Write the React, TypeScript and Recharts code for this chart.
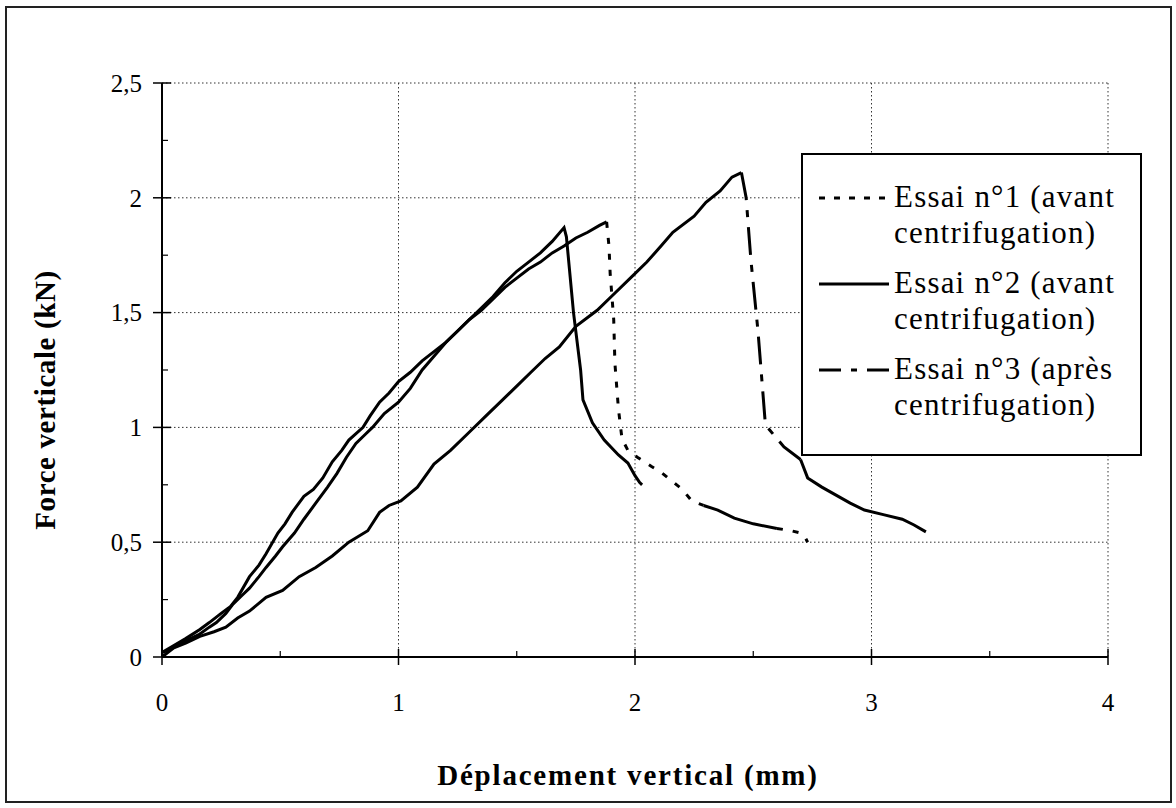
import { CartesianGrid, Legend, Line, LineChart, XAxis, YAxis } from "recharts";

// Axis ticks (majors get labels, the others are small minor marks)
const xTicks = [0, 0.5, 1, 1.5, 2, 2.5, 3, 3.5, 4];
const yTicks = [0, 0.25, 0.5, 0.75, 1, 1.25, 1.5, 1.75, 2, 2.25, 2.5];
const xGrid = [1, 2, 3, 4];
const yGrid = [0.5, 1, 1.5, 2, 2.5];

// Essai n°1 : loading branch, drop, tail, end
const t1RiseX = [0, 0.05, 0.1, 0.16, 0.2, 0.25, 0.29, 0.32, 0.37, 0.41, 0.44, 0.49, 0.52, 0.55, 0.6, 0.64, 0.68, 0.72, 0.76, 0.79, 0.85, 0.88, 0.92, 0.96, 1.0, 1.05, 1.1, 1.15, 1.2, 1.25, 1.3, 1.35, 1.4, 1.45, 1.5, 1.55, 1.6, 1.65, 1.7, 1.75, 1.8, 1.85, 1.88];
const t1RiseY = [0.02, 0.05, 0.08, 0.12, 0.15, 0.19, 0.22, 0.26, 0.35, 0.4, 0.45, 0.54, 0.58, 0.63, 0.7, 0.73, 0.78, 0.85, 0.9, 0.945, 1.0, 1.05, 1.11, 1.15, 1.2, 1.24, 1.29, 1.33, 1.37, 1.42, 1.47, 1.51, 1.56, 1.61, 1.65, 1.69, 1.72, 1.76, 1.79, 1.825, 1.85, 1.88, 1.895];
const t1DropX = [1.88, 1.89, 1.895, 1.91, 1.915, 1.93, 1.945, 1.97, 2.01, 2.07, 2.11, 2.14, 2.2, 2.24, 2.29];
const t1DropY = [1.895, 1.79, 1.67, 1.47, 1.28, 1.08, 0.95, 0.9, 0.87, 0.83, 0.805, 0.78, 0.73, 0.68, 0.66];
const t1TailX = [2.29, 2.35, 2.42, 2.5, 2.6];
const t1TailY = [0.66, 0.64, 0.605, 0.58, 0.56];
const t1EndX = [2.6, 2.66, 2.7, 2.72, 2.73];
const t1EndY = [0.56, 0.55, 0.54, 0.52, 0.5];

// Essai n°2
const t2X = [0, 0.03, 0.08, 0.12, 0.16, 0.2, 0.23, 0.27, 0.3, 0.34, 0.37, 0.41, 0.44, 0.48, 0.51, 0.56, 0.6, 0.65, 0.7, 0.74, 0.78, 0.82, 0.86, 0.89, 0.94, 1.0, 1.05, 1.1, 1.15, 1.2, 1.25, 1.3, 1.35, 1.4, 1.45, 1.5, 1.55, 1.6, 1.65, 1.7, 1.71, 1.74, 1.77, 1.78, 1.82, 1.87, 1.93, 1.97, 2.0, 2.02, 2.03];
const t2Y = [0.02, 0.03, 0.06, 0.08, 0.1, 0.13, 0.15, 0.19, 0.23, 0.27, 0.3, 0.35, 0.39, 0.44, 0.48, 0.54, 0.6, 0.67, 0.74, 0.8, 0.87, 0.93, 0.97, 1.0, 1.06, 1.11, 1.17, 1.25, 1.31, 1.37, 1.42, 1.47, 1.52, 1.57, 1.63, 1.68, 1.72, 1.76, 1.81, 1.87, 1.83, 1.5, 1.25, 1.12, 1.02, 0.945, 0.88, 0.845, 0.79, 0.76, 0.75];

// Essai n°3 : loading, sudden drop, tail
const t3RiseX = [0, 0.05, 0.1, 0.16, 0.22, 0.27, 0.32, 0.37, 0.44, 0.51, 0.58, 0.65, 0.72, 0.79, 0.87, 0.92, 0.96, 1.01, 1.08, 1.15, 1.22, 1.3, 1.37, 1.44, 1.5, 1.56, 1.62, 1.68, 1.75, 1.84, 1.91, 1.99, 2.05, 2.11, 2.16, 2.25, 2.3, 2.36, 2.41, 2.45];
const t3RiseY = [0, 0.04, 0.06, 0.09, 0.11, 0.13, 0.17, 0.2, 0.26, 0.29, 0.35, 0.39, 0.44, 0.5, 0.55, 0.63, 0.66, 0.68, 0.74, 0.84, 0.9, 0.98, 1.05, 1.12, 1.18, 1.24, 1.3, 1.35, 1.44, 1.51, 1.58, 1.66, 1.72, 1.79, 1.85, 1.92, 1.98, 2.03, 2.09, 2.11];
const t3DropX = [2.45, 2.47, 2.49, 2.52, 2.55, 2.56, 2.63, 2.7];
const t3DropY = [2.11, 2.0, 1.73, 1.42, 1.03, 1.0, 0.915, 0.86];
const t3TailX = [2.7, 2.73, 2.79, 2.85, 2.91, 2.97, 3.05, 3.13, 3.18, 3.23];
const t3TailY = [0.86, 0.78, 0.74, 0.705, 0.67, 0.64, 0.62, 0.6, 0.575, 0.545];

const legendLines = [
  ["Essai n°1 (avant", "centrifugation)"],
  ["Essai n°2 (avant", "centrifugation)"],
  ["Essai n°3 (après", "centrifugation)"],
];

const DOTTED = "6 10";
const DASHDOT = "28 10 7 10";
const legendDash = ["6 9", undefined, "22 10 6 10"];

const SERIF = "'Liberation Serif', 'Times New Roman', serif";
const LINE_W = 3;

const rows = (xs: number[], ys: number[]) => xs.map((x, i) => ({ x, y: ys[i] }));

const isMajor = (v: number, step: number) => Math.abs(v / step - Math.round(v / step)) < 1e-6;

function XTick({ x, y, payload }: any) {
  const v = payload.value as number;
  const major = isMajor(v, 1);
  return (
    <g>
      {major ? (
        <line x1={x} x2={x} y1={y - 8} y2={y + 8} stroke="#000" strokeWidth={1.5} />
      ) : (
        <line x1={x} x2={x} y1={y - 6} y2={y} stroke="#000" strokeWidth={1.2} />
      )}
      {major && (
        <text x={x} y={y + 45} dy="0.35em" textAnchor="middle" fontFamily={SERIF} fontSize={25} fill="#000">
          {String(v)}
        </text>
      )}
    </g>
  );
}

function YTick({ x, y, payload }: any) {
  const v = payload.value as number;
  const major = isMajor(v, 0.5);
  return (
    <g>
      {major ? (
        <line x1={x - 9} x2={x + 9} y1={y} y2={y} stroke="#000" strokeWidth={1.5} />
      ) : (
        <line x1={x} x2={x + 6} y1={y} y2={y} stroke="#000" strokeWidth={1.2} />
      )}
      {major && (
        <text x={x - 20} y={y} dy="0.35em" textAnchor="end" fontFamily={SERIF} fontSize={25} fill="#000">
          {String(v).replace(".", ",")}
        </text>
      )}
    </g>
  );
}

function LegendBox() {
  return (
    <div
      style={{
        width: 341,
        height: 303,
        boxSizing: "border-box",
        border: "2px solid #000",
        background: "#fff",
        position: "relative",
        fontFamily: SERIF,
        fontSize: 31,
        letterSpacing: 1.2,
        lineHeight: "36px",
        color: "#000",
      }}
    >
      {legendLines.map((lines, i) => (
        <div key={i} style={{ position: "absolute", left: 0, top: 24 + i * 86, width: "100%" }}>
          <svg width={90} height={36} style={{ position: "absolute", left: 0, top: 0 }}>
            <line x1={16} x2={86} y1={19} y2={19} stroke="#000" strokeWidth={LINE_W} strokeDasharray={legendDash[i]} />
          </svg>
          <div style={{ position: "absolute", left: 91, top: 0, whiteSpace: "nowrap" }}>
            {lines[0]}
            <br />
            {lines[1]}
          </div>
        </div>
      ))}
    </div>
  );
}

export default function App() {
  return (
    <div style={{ position: "absolute", left: 0, top: 0, width: 1176, height: 808, background: "#fff" }}>
      <div
        style={{
          position: "absolute",
          left: 5,
          top: 6,
          width: 1167,
          height: 797,
          boxSizing: "border-box",
          border: "2px solid #222",
        }}
      />
      <LineChart width={1176} height={808} margin={{ top: 83, right: 68, bottom: 0, left: 0 }}>
        <CartesianGrid
          horizontalValues={yGrid}
          verticalValues={xGrid}
          stroke="#333"
          strokeDasharray="1.5 2.5"
          strokeWidth={1}
        />
        <XAxis
          dataKey="x"
          type="number"
          domain={[0, 4]}
          ticks={xTicks}
          allowDataOverflow
          height={151}
          tickSize={0}
          tickMargin={0}
          tickLine={false}
          axisLine={{ stroke: "#000", strokeWidth: 2 }}
          tick={<XTick />}
          label={{
            content: () => (
              <text x={628} y={775} dy="0.35em" textAnchor="middle" fontFamily={SERIF} fontSize={29} fontWeight="bold" letterSpacing={1.8} fill="#000">
                Déplacement vertical (mm)
              </text>
            ),
          }}
        />
        <YAxis
          type="number"
          domain={[0, 2.5]}
          ticks={yTicks}
          allowDataOverflow
          width={162}
          tickSize={0}
          tickMargin={0}
          tickLine={false}
          axisLine={{ stroke: "#000", strokeWidth: 2 }}
          tick={<YTick />}
          label={{
            content: () => (
              <text x={45} y={400} dy="0.35em" textAnchor="middle" transform="rotate(-90 45 400)" fontFamily={SERIF} fontSize={29} fontWeight="bold" letterSpacing={0.6} fill="#000">
                Force verticale (kN)
              </text>
            ),
          }}
        />
        <Line data={rows(t1RiseX, t1RiseY)} dataKey="y" type="linear" stroke="#000" strokeWidth={LINE_W} dot={false} isAnimationActive={false} legendType="none" />
        <Line data={rows(t1DropX, t1DropY)} dataKey="y" type="linear" stroke="#000" strokeWidth={LINE_W} strokeDasharray={DOTTED} dot={false} isAnimationActive={false} legendType="none" />
        <Line data={rows(t1TailX, t1TailY)} dataKey="y" type="linear" stroke="#000" strokeWidth={LINE_W} dot={false} isAnimationActive={false} legendType="none" />
        <Line data={rows(t1EndX, t1EndY)} dataKey="y" type="linear" stroke="#000" strokeWidth={LINE_W} strokeDasharray={DOTTED} dot={false} isAnimationActive={false} legendType="none" />
        <Line data={rows(t2X, t2Y)} dataKey="y" type="linear" stroke="#000" strokeWidth={LINE_W} dot={false} isAnimationActive={false} legendType="none" />
        <Line data={rows(t3RiseX, t3RiseY)} dataKey="y" type="linear" stroke="#000" strokeWidth={LINE_W} dot={false} isAnimationActive={false} legendType="none" />
        <Line data={rows(t3DropX, t3DropY)} dataKey="y" type="linear" stroke="#000" strokeWidth={LINE_W} strokeDasharray={DASHDOT} dot={false} isAnimationActive={false} legendType="none" />
        <Line data={rows(t3TailX, t3TailY)} dataKey="y" type="linear" stroke="#000" strokeWidth={LINE_W} dot={false} isAnimationActive={false} legendType="none" />
        <Legend
          layout="horizontal"
          verticalAlign="middle"
          align="center"
          content={() => <LegendBox />}
          wrapperStyle={{ left: 801, top: 153, width: 341, height: 303 }}
        />
      </LineChart>
    </div>
  );
}
